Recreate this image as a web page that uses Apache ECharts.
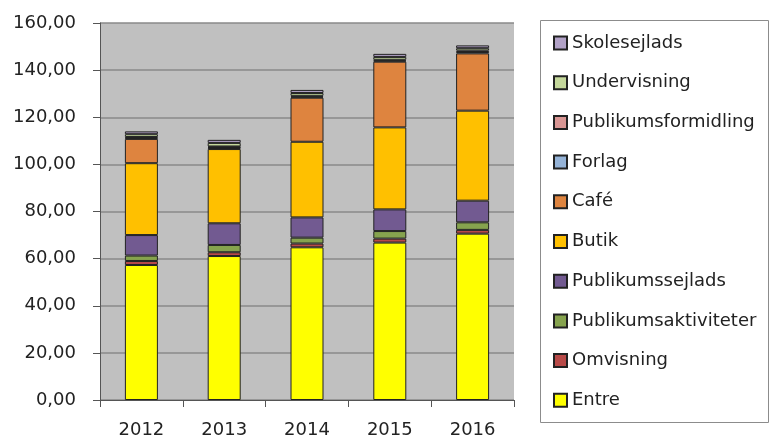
<!DOCTYPE html>
<html>
<head>
<meta charset="UTF-8">
<title>Omsætning</title>
<script type="text/javascript" src="https://cdn.jsdelivr.net/npm/echarts@6/dist/echarts.min.js"></script>
<style>
	body { margin: 0; background: #fff; }
	#main { width: 771px; height: 440px; }
</style>
</head>
<body>
	<div id="main"></div>
	<script type="text/javascript">
		var years = ['2012', '2013', '2014', '2015', '2016'];
		var yTicks = [0, 20, 40, 60, 80, 100, 120, 140, 160];

		var entre = [57.3, 61.1, 64.8, 66.8, 70.6];
		var omvisning = [1.7, 1.6, 1.6, 1.7, 1.6];
		var publikumsaktiviteter = [2.3, 3.1, 2.5, 3.2, 3.2];
		var publikumssejlads = [8.7, 9.2, 8.6, 9.2, 9.2];
		var butik = [30.5, 31.5, 32.1, 34.8, 38.2];
		var cafe = [10.3, 0.5, 18.7, 27.9, 24.3];
		var forlag = [0.4, 0.3, 0.4, 0.4, 0.6];
		var publikumsformidling = [0.4, 0.3, 0.4, 0.4, 0.6];
		var undervisning = [1.2, 1.5, 1.2, 1.2, 1.0];
		var skolesejlads = [1.2, 1.3, 1.3, 1.3, 1.2];

		var names = ['Entre', 'Omvisning', 'Publikumsaktiviteter', 'Publikumssejlads', 'Butik',
			'Café', 'Forlag', 'Publikumsformidling', 'Undervisning', 'Skolesejlads'];
		var values = [entre, omvisning, publikumsaktiviteter, publikumssejlads, butik,
			cafe, forlag, publikumsformidling, undervisning, skolesejlads];
		var colors = ['#FFFF00', '#B84A48', '#86A34E', '#725A91', '#FFC000',
			'#DE843F', '#95B3D7', '#D99694', '#C4D79B', '#B2A2C7'];

		var font = 'DejaVu Sans';
		var series = [];
		for (var i = 0; i < names.length; i++) {
			series.push({
				name: names[i],
				type: 'bar',
				stack: 'total',
				barWidth: 33,
				data: values[i],
				itemStyle: {
					color: colors[i],
					borderColor: '#222',
					borderWidth: 1
				}
			});
		}

		var myChart = echarts.init(document.getElementById('main'));
		var option = {
			animation: false,
			grid: {
				left: 100,
				top: 23,
				width: 414,
				height: 377,
				show: true,
				backgroundColor: '#C0C0C0',
				borderWidth: 0
			},
			graphic: [{
				type: 'rect',
				shape: { x: 540.5, y: 20.5, width: 228, height: 402 },
				style: { fill: 'none', stroke: '#8c8c8c', lineWidth: 1 }
			}],
			legend: {
				orient: 'vertical',
				left: 553,
				top: 33,
				padding: 0,
				icon: 'rect',
				itemWidth: 13,
				itemHeight: 13,
				itemGap: 19.7,
				data: names.slice().reverse(),
				textStyle: { fontFamily: font, fontSize: 18, lineHeight: 20, color: '#222' }
			},
			xAxis: {
				type: 'category',
				data: years,
				axisLine: { lineStyle: { color: '#555', width: 1 } },
				axisTick: { show: true, length: 7, lineStyle: { color: '#555' } },
				axisLabel: { fontFamily: font, fontSize: 18, color: '#222', margin: 21 }
			},
			yAxis: {
				type: 'value',
				min: yTicks[0],
				max: yTicks[yTicks.length - 1],
				interval: yTicks[1] - yTicks[0],
				axisLine: { show: true, lineStyle: { color: '#555', width: 1 } },
				axisTick: { show: true, length: 7, lineStyle: { color: '#555' } },
				splitLine: { lineStyle: { color: '#8a8a8a', width: 1.5 } },
				axisLabel: {
					fontFamily: font, fontSize: 18, color: '#222', margin: 24,
					formatter: function (v) { return v.toFixed(2).replace('.', ','); }
				}
			},
			series: series
		};
		myChart.setOption(option);
	</script>
</body>
</html>
